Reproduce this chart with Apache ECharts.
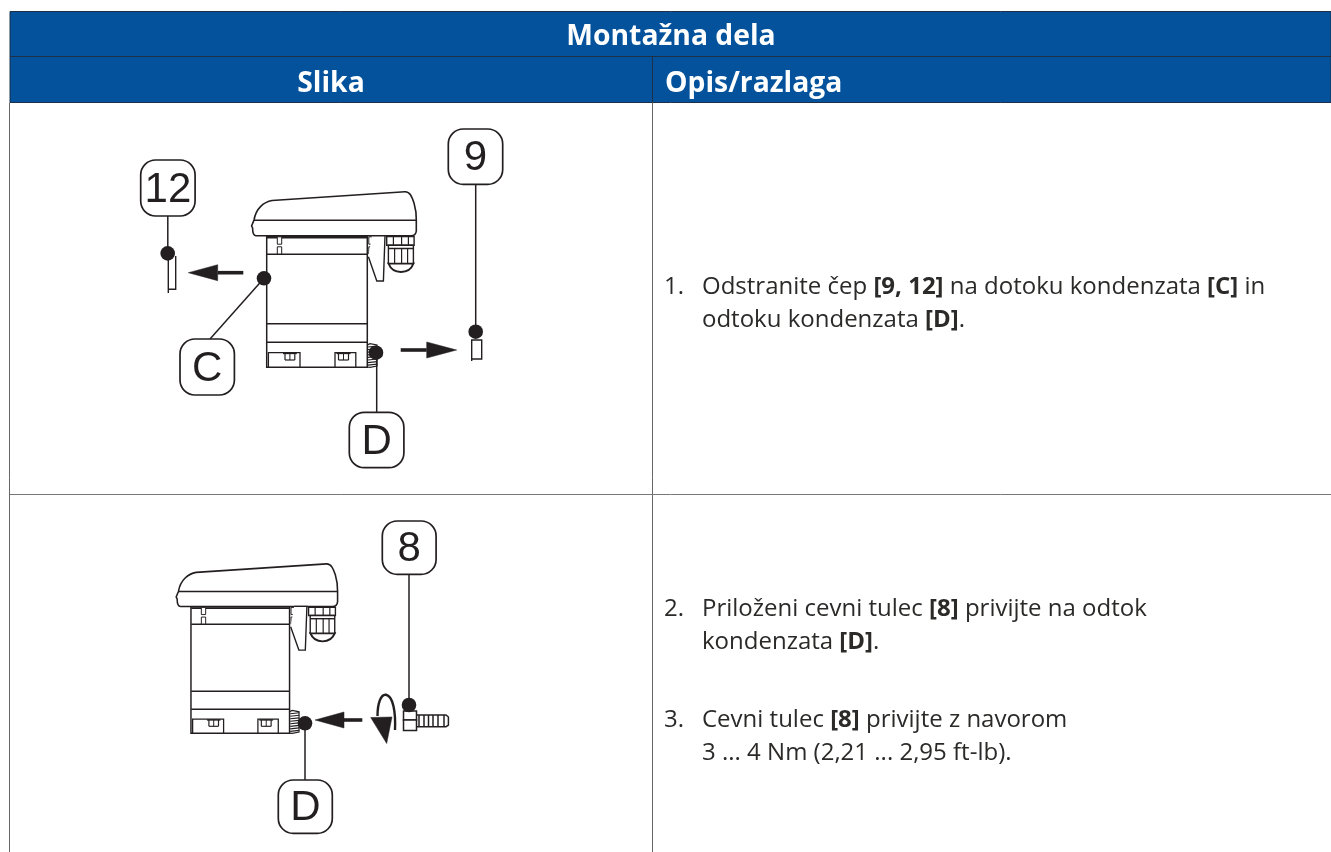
<!DOCTYPE html>
<html><head><meta charset="utf-8">
<style>html,body{margin:0;padding:0;background:#fff}#c{width:1331px;height:852px}</style>
<script src="https://cdn.jsdelivr.net/npm/echarts@6/dist/echarts.min.js"></script>
</head><body><div id="c"></div>
<script>
var tableTitle = 'Montažna dela';
var columnTitles = ['Slika', 'Opis/razlaga'];
var stepNumbers = ['1.', '2.', '3.'];
var step1Lines = ['{t|Odstranite čep }{b|[9, 12]}{t| na dotoku kondenzata }{b|[C]}{t| in}', '{t|odtoku kondenzata }{b|[D]}{t|.}'];
var step2Lines = ['{t|Priloženi cevni tulec }{b|[8]}{t| privijte na odtok}', '{t|kondenzata }{b|[D]}{t|.}'];
var step3Lines = ['{t|Cevni tulec }{b|[8]}{t| privijte z navorom}', '{t|3 ... 4 Nm (2,21 ... 2,95 ft-lb).}'];
var calloutLabels = ['12', '9', 'C', 'D', '8', 'D'];

var INK = '#231f20', BLUE = '#03529b', FONT = '"Open Sans", sans-serif', BODY = '24px "Open Sans", sans-serif', BODYB = 'bold 24px "Open Sans", sans-serif';
var pathId = 0;
function line(x1, y1, x2, y2, w, c) { return {type:'line', silent:true, shape:{x1:x1,y1:y1,x2:x2,y2:y2}, style:{stroke:c||INK, lineWidth:w||1.5}}; }
function box(x, y, w, h, st, r) { return {type:'rect', silent:true, shape:{x:x,y:y,width:w,height:h,r:r||0}, style:Object.assign({fill:'#fff',stroke:INK,lineWidth:1.5}, st||{})}; }
function path(d, st) {
  var name = 'svgShape' + (pathId++);
  echarts.graphic.registerShape(name, echarts.graphic.extendPath(d, {}));
  return {type:name, silent:true, style:Object.assign({fill:'none',stroke:INK,lineWidth:1.5}, st||{})};
}
function dot(x, y, r) { return {type:'circle', silent:true, z:5, shape:{cx:x,cy:y,r:r||7.3}, style:{fill:INK}}; }
function callout(x, y, w, h, label) {
  return [box(x, y, w, h, {lineWidth:1.7}, 15),
    {type:'text', silent:true, x:x+w/2, y:y+h/2+2, style:{text:label, fill:INK, font:'42px "Liberation Sans"', align:'center', verticalAlign:'middle'}}];
}
function arrow(tail, base, tip, y, hw) {
  return [line(tail, y, base, y, 3.6),
    path('M'+base+' '+(y-hw)+'L'+tip+' '+y+'L'+base+' '+(y+hw)+'Z', {fill:INK, stroke:INK, lineWidth:.5})];
}
function device() {
  var c = [];
  c.push(path('M254 220C256 208 264 202 272 200.5L405 191.7C410 191.5 412 197 414 203C416 210 416.5 215 416.3 220L416.3 231C416 234 414 235.8 411 235.8L256 235.8C253 235.8 252.6 232 252.6 228L251.6 226L254 220Z', {fill:'#fff', lineWidth:1.6}));
  c.push(line(254, 220.3, 416, 220.3, 1.5));
  c.push(box(266.7, 236.5, 100.6, 130.8, {lineWidth:1.5}));
  c.push(line(267, 237.6, 367, 237.6, 1.6));
  c.push(line(267, 254.3, 367, 254.3));
  c.push(line(267, 323.7, 367, 323.7));
  c.push(line(267, 342.3, 367, 342.3));
  c.push(box(277.3, 236.8, 4.4, 7.4, {lineWidth:1}));
  c.push(box(277.3, 246.8, 4.4, 7.2, {lineWidth:1}));
  c.push(box(368.8, 236.8, 3.6, 7.4, {lineWidth:1}));
  c.push(box(368.8, 246.8, 3.6, 7.2, {lineWidth:1}));
  c.push(path('M372 235.8L385 235.8L383.4 281L376.8 281L368.4 256.8', {fill:'#fff', lineWidth:1.4}));
  c.push(path('M388.5 263.5C391 270 396 272 401 272C406 272 411 270 413.5 263.5Z', {fill:'#fff', lineWidth:2}));
  c.push(box(386.7, 236.6, 27.4, 8.6, {lineWidth:1.4}));
  c.push(box(388.4, 245.2, 25, 18.2, {lineWidth:1.4}));
  c.push(line(388.4, 248.5, 413.4, 248.5, 1.5));
  [393.4, 401.6, 408.4].forEach(function (x) { c.push(line(x, 236.6, x, 245.2, 1.2)); });
  [394.6, 401.6, 407.6].forEach(function (x) { c.push(line(x, 248.5, x, 263.4, 1.2)); });
  [[268.4, 31.6, 283, 13.8], [335, 20.8, 336.5, 14]].forEach(function (p) {
    c.push(path('M'+p[0]+' 367V352.6H'+(p[0]+p[1])+'V367', {lineWidth:1.3}));
    c.push(line(p[2], 353.4, p[2]+p[3], 353.4, 1.5));
    c.push(line(p[2]+2, 353.4, p[2]+2, 360, 1.2));
    c.push(line(p[2]+p[3]-2, 353.4, p[2]+p[3]-2, 360, 1.2));
    c.push(line(p[2]+p[3]/2, 353.4, p[2]+p[3]/2, 360, 1));
    c.push(line(p[2]+2, 360, p[2]+p[3]-2, 360, 1.2));
  });
  c.push(path('M367.3 345L370 343.6L377 345V366L370 367.3L367.3 367', {lineWidth:1.2}));
  for (var i = 0; i < 8; i++) c.push(line(368, 347 + i*2.6, 377, 346 + i*2.6, 1.2));
  return c;
}
var g = [];
g.push(box(10, 11.5, 1321, 91, {fill:BLUE, stroke:'#1d3047', lineWidth:1}));
g.push(line(10, 56.5, 1331, 56.5, 1, '#1d3047'));
g.push(line(652.5, 56.5, 652.5, 102.5, 1, '#1d3047'));
g.push(line(9.5, 102.5, 9.5, 852, 1, '#666'));
g.push(line(652.5, 102.5, 652.5, 852, 1, '#666'));
g.push(line(10, 494.5, 1331, 494.5, 1, '#777'));
function head(txt, x, y, al) { g.push({type:'text', silent:true, x:x, y:y, style:{text:txt, fill:'#fff', font:'bold 28.3px '+FONT, align:al, verticalAlign:'middle'}}); }
head(tableTitle, 671, 37, 'center');
head(columnTitles[0], 331, 84, 'center');
head(columnTitles[1], 665, 84, 'left');
var rich = {t:{fill:'#2b2a29', font:BODY}, b:{fill:'#2b2a29', font:BODYB}};
function para(num, lines, y) {
  g.push({type:'text', silent:true, x:664, y:y, style:{text:num, fill:'#2b2a29', font:BODY, verticalAlign:'middle'}});
  lines.forEach(function (s, i) {
    g.push({type:'text', silent:true, x:702, y:y + i*33, style:{text:s, rich:rich, verticalAlign:'middle'}});
  });
}
para(stepNumbers[0], step1Lines, 287);
para(stepNumbers[1], step2Lines, 609);
para(stepNumbers[2], step3Lines, 720);
g.push({type:'group', children:device()});
g = g.concat(
  path('M168.3 253V293M168.3 289.3H175.7V256', {lineWidth:1.4}),
  path('M471.7 361V340H481.7V359H471.7', {lineWidth:1.4}),
  arrow(243.3, 217.7, 188.3, 272.7, 8),
  arrow(400.7, 426.7, 456.7, 350, 8),
  line(167.8, 215, 167.8, 253), dot(167.7, 253.4),
  line(264, 278.3, 210, 339), dot(264, 278.3),
  line(475.7, 184, 475.7, 331), dot(475.7, 331.7),
  line(376.7, 352, 376.7, 412.5), dot(376, 352.7),
  callout(140.7, 160, 54.4, 56, calloutLabels[0]),
  callout(448.3, 129, 54.4, 55.4, calloutLabels[1]),
  callout(180, 339, 54.4, 56, calloutLabels[2]),
  callout(349.3, 412.3, 54.6, 55.4, calloutLabels[3])
);
g.push({type:'group', x:-70.4, y:378.9, scaleX:.98, scaleY:.965, children:device()});
g = g.concat(
  arrow(362.3, 344, 315, 720, 8),
  line(409, 574, 409, 705), dot(409, 705),
  line(305, 723, 305, 780), dot(305, 723.3),
  path('M395 730C395.8 712 393 696 386 694.8C381 694 377.5 703 377.5 716', {lineWidth:2.4}),
  path('M370.7 717.5L392 717L386.7 743.5Z', {fill:INK, stroke:INK, lineWidth:.5}),
  box(403.5, 711, 13, 9, {lineWidth:1.5}),
  box(403.5, 720, 13, 10.6, {lineWidth:1.5}),
  path('M417 715L419 715V726.7H417M419 715H446L448.4 717V725L446 726.7H419', {lineWidth:1.5}),
  line(424, 715, 424, 726.7), line(428.5, 715, 428.5, 726.7), line(433, 715, 433, 726.7), line(438, 715, 438, 726.7), line(444, 715, 444, 726.7),
  callout(382.3, 521, 53.8, 53.4, calloutLabels[4]),
  callout(278.3, 780, 54, 53.4, calloutLabels[5])
);
var chart = echarts.init(document.getElementById('c'), null, {renderer:'canvas', width:1331, height:852});
chart.setOption({animation:false, backgroundColor:'#fff', graphic:{elements:g}});
</script></body></html>
